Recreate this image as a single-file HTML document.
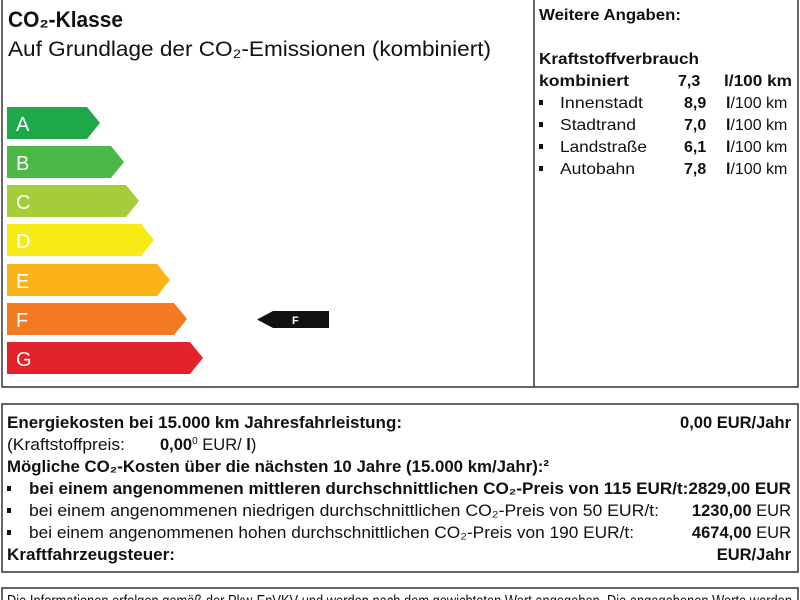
<!DOCTYPE html>
<html><head><meta charset="utf-8"><style>
body{margin:0;background:#fff}
svg{display:block}
text{font-family:"Liberation Sans Narrow","Liberation Sans",sans-serif;fill:#111}
.b{font-weight:bold}
</style></head><body>
<svg width="800" height="600" viewBox="0 0 800 600">
<rect x="0" y="0" width="800" height="600" fill="#fff"/>
<rect x="2" y="-2" width="796" height="389" fill="none" stroke="#333" stroke-width="1.5"/>
<line x1="534" y1="0" x2="534" y2="387" stroke="#333" stroke-width="1.5"/>
<text x="8" y="27" font-size="22" class="b" textLength="115" lengthAdjust="spacingAndGlyphs">CO₂-Klasse</text>
<text x="8" y="56" font-size="21" textLength="483" lengthAdjust="spacingAndGlyphs">Auf Grundlage der CO₂-Emissionen (kombiniert)</text>
<g font-size="20" >
<polygon points="7,107 87,107 100,123 87,139 7,139" fill="#1fa84a"/><text x="16" y="131" fill="#fff" style="fill:#fff">A</text>
<polygon points="7,146 111,146 124,162 111,178 7,178" fill="#4cb848"/><text x="16" y="170" style="fill:#fff">B</text>
<polygon points="7,185 126,185 139,201 126,217 7,217" fill="#a5cd39"/><text x="16" y="209" style="fill:#fff">C</text>
<polygon points="7,224 141,224 154,240 141,256 7,256" fill="#f6eb16"/><text x="16" y="248" style="fill:#fff">D</text>
<polygon points="7,264 157,264 170,280 157,296 7,296" fill="#fbb317"/><text x="16" y="288" style="fill:#fff">E</text>
<polygon points="7,303 174,303 187,319 174,335 7,335" fill="#f37a20"/><text x="16" y="327" style="fill:#fff">F</text>
<polygon points="7,342 190,342 203,358 190,374 7,374" fill="#e3232b"/><text x="16" y="366" style="fill:#fff">G</text>
</g>
<polygon points="257,319.5 273,311 329,311 329,328 273,328" fill="#111"/>
<text x="292" y="324" font-size="11" class="b" style="fill:#fff">F</text>
<g font-size="16">
<text x="539" y="20" class="b" font-size="15.5" textLength="142" lengthAdjust="spacingAndGlyphs">Weitere Angaben:</text>
<text x="539" y="64" class="b" textLength="160" lengthAdjust="spacingAndGlyphs">Kraftstoffverbrauch</text>
<text x="539" y="86" class="b" textLength="90" lengthAdjust="spacingAndGlyphs">kombiniert</text>
<text x="678" y="86" class="b">7,3</text>
<text x="724" y="86" class="b" textLength="68" lengthAdjust="spacingAndGlyphs">l/100 km</text>
<rect x="539" y="100" width="4" height="5" fill="#111"/><text x="560" y="108" textLength="83" lengthAdjust="spacingAndGlyphs">Innenstadt</text><text x="684" y="108" class="b">8,9</text><text x="726" y="108"><tspan class="b">l</tspan>/100 km</text>
<rect x="539" y="122" width="4" height="5" fill="#111"/><text x="560" y="130" textLength="76" lengthAdjust="spacingAndGlyphs">Stadtrand</text><text x="684" y="130" class="b">7,0</text><text x="726" y="130"><tspan class="b">l</tspan>/100 km</text>
<rect x="539" y="144" width="4" height="5" fill="#111"/><text x="560" y="152" textLength="87" lengthAdjust="spacingAndGlyphs">Landstraße</text><text x="684" y="152" class="b">6,1</text><text x="726" y="152"><tspan class="b">l</tspan>/100 km</text>
<rect x="539" y="166" width="4" height="5" fill="#111"/><text x="560" y="174" textLength="75" lengthAdjust="spacingAndGlyphs">Autobahn</text><text x="684" y="174" class="b">7,8</text><text x="726" y="174"><tspan class="b">l</tspan>/100 km</text>
</g>
<rect x="2" y="404" width="796" height="168" fill="none" stroke="#333" stroke-width="1.5"/>
<g font-size="16.5">
<text x="7" y="428" class="b" textLength="395" lengthAdjust="spacingAndGlyphs">Energiekosten bei 15.000 km Jahresfahrleistung:</text>
<text x="791" y="428" class="b" text-anchor="end">0,00 EUR/Jahr</text>
<text x="7" y="450" textLength="118" lengthAdjust="spacingAndGlyphs">(Kraftstoffpreis:</text>
<text x="160" y="450"><tspan class="b">0,00</tspan><tspan font-size="10" dy="-6">0</tspan><tspan dy="6"> EUR/   </tspan><tspan class="b">l</tspan>)</text>
<text x="7" y="472" class="b" textLength="542" lengthAdjust="spacingAndGlyphs">Mögliche CO₂-Kosten über die nächsten 10 Jahre (15.000 km/Jahr):²</text>
<rect x="7" y="486" width="4" height="5" fill="#111"/>
<text x="29" y="494" class="b" textLength="762" lengthAdjust="spacingAndGlyphs">bei einem angenommenen mittleren durchschnittlichen CO₂-Preis von  115  EUR/t:2829,00 EUR</text>
<rect x="7" y="508" width="4" height="5" fill="#111"/>
<text x="29" y="516" textLength="630" lengthAdjust="spacingAndGlyphs">bei einem angenommenen niedrigen durchschnittlichen CO₂-Preis von    50  EUR/t:</text>
<text x="791" y="516" text-anchor="end"><tspan class="b">1230,00</tspan> EUR</text>
<rect x="7" y="530" width="4" height="5" fill="#111"/>
<text x="29" y="538" textLength="605" lengthAdjust="spacingAndGlyphs">bei einem angenommenen hohen durchschnittlichen CO₂-Preis von  190  EUR/t:</text>
<text x="791" y="538" text-anchor="end"><tspan class="b">4674,00</tspan> EUR</text>
<text x="7" y="560" class="b" textLength="168" lengthAdjust="spacingAndGlyphs">Kraftfahrzeugsteuer:</text>
<text x="791" y="560" class="b" text-anchor="end">EUR/Jahr</text>
</g>
<rect x="2" y="588" width="796" height="20" fill="none" stroke="#333" stroke-width="1.5"/>
<text x="7" y="606" font-size="16" textLength="785" lengthAdjust="spacingAndGlyphs">Die Informationen erfolgen gemäß der Pkw-EnVKV und werden nach dem gewichteten Wert angegeben. Die angegebenen Werte werden</text>
</svg>
</body></html>
